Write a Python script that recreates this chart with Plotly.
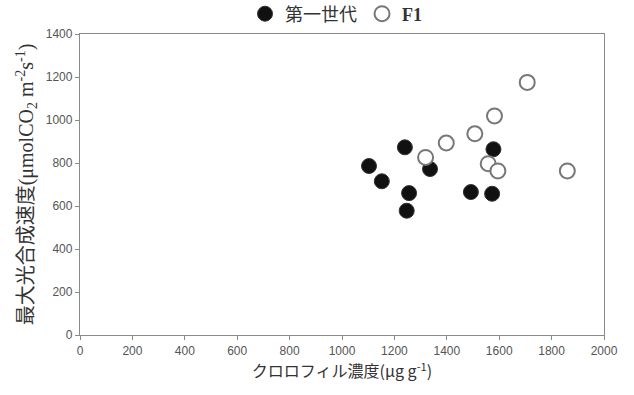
import plotly.graph_objects as go

gen1_x = [1103, 1152, 1240, 1256, 1247, 1336, 1492, 1578, 1573]
gen1_y = [786, 715, 873, 660, 578, 772, 665, 864, 657]
f1_x = [1319, 1398, 1507, 1582, 1558, 1595, 1707, 1860]
f1_y = [826, 893, 936, 1019, 797, 763, 1175, 763]

x_ticks = [0, 200, 400, 600, 800, 1000, 1200, 1400, 1600, 1800, 2000]
y_ticks = [0, 200, 400, 600, 800, 1000, 1200, 1400]

fig = go.Figure()
fig.add_trace(go.Scatter(
    x=gen1_x, y=gen1_y, mode="markers", name="第一世代",
    marker=dict(size=15, color="#111111", line=dict(color="#333333", width=1)),
))
fig.add_trace(go.Scatter(
    x=f1_x, y=f1_y, mode="markers", name="<b>F1</b>",
    marker=dict(size=15, color="white", line=dict(color="#777777", width=2)),
))

axis_common = dict(
    showgrid=False, zeroline=False, showline=True, linecolor="#8a8a8a", linewidth=1.3,
    mirror=True, ticks="outside", ticklen=4, tickcolor="#8a8a8a",
    tickfont=dict(family="Liberation Sans", size=12, color="#555555"),
)

fig.update_layout(
    width=634, height=395,
    margin=dict(l=80, r=30, t=34, b=60, autoexpand=False),
    paper_bgcolor="white", plot_bgcolor="white",
    showlegend=True,
    legend=dict(orientation="h", xref="container", x=0.53, xanchor="center",
                yref="container", y=1 - 14 / 395, yanchor="middle",
                font=dict(family="Liberation Serif, Noto Sans CJK JP", size=18, color="#333333"),
                itemsizing="trace", itemwidth=30, bgcolor="rgba(0,0,0,0)",
                tracegroupgap=0),
    xaxis=dict(range=[0, 2000], tickvals=x_ticks, ticktext=[str(v) for v in x_ticks],
               title=dict(text="クロロフィル濃度(μg g<sup>-1</sup>)",
                          font=dict(family="Noto Sans CJK JP", size=16, color="#333333"),
                          standoff=8),
               **axis_common),
    yaxis=dict(range=[0, 1400], tickvals=y_ticks, ticktext=[str(v) for v in y_ticks],
               title=dict(text="最大光合成速度(μmolCO<sub>2</sub> m<sup>-2</sup>s<sup>-1</sup>)",
                          font=dict(family="Liberation Serif, Noto Sans CJK JP", size=20, color="#333333"),
                          standoff=6),
               **axis_common),
)

fig.write_html("out.html")
